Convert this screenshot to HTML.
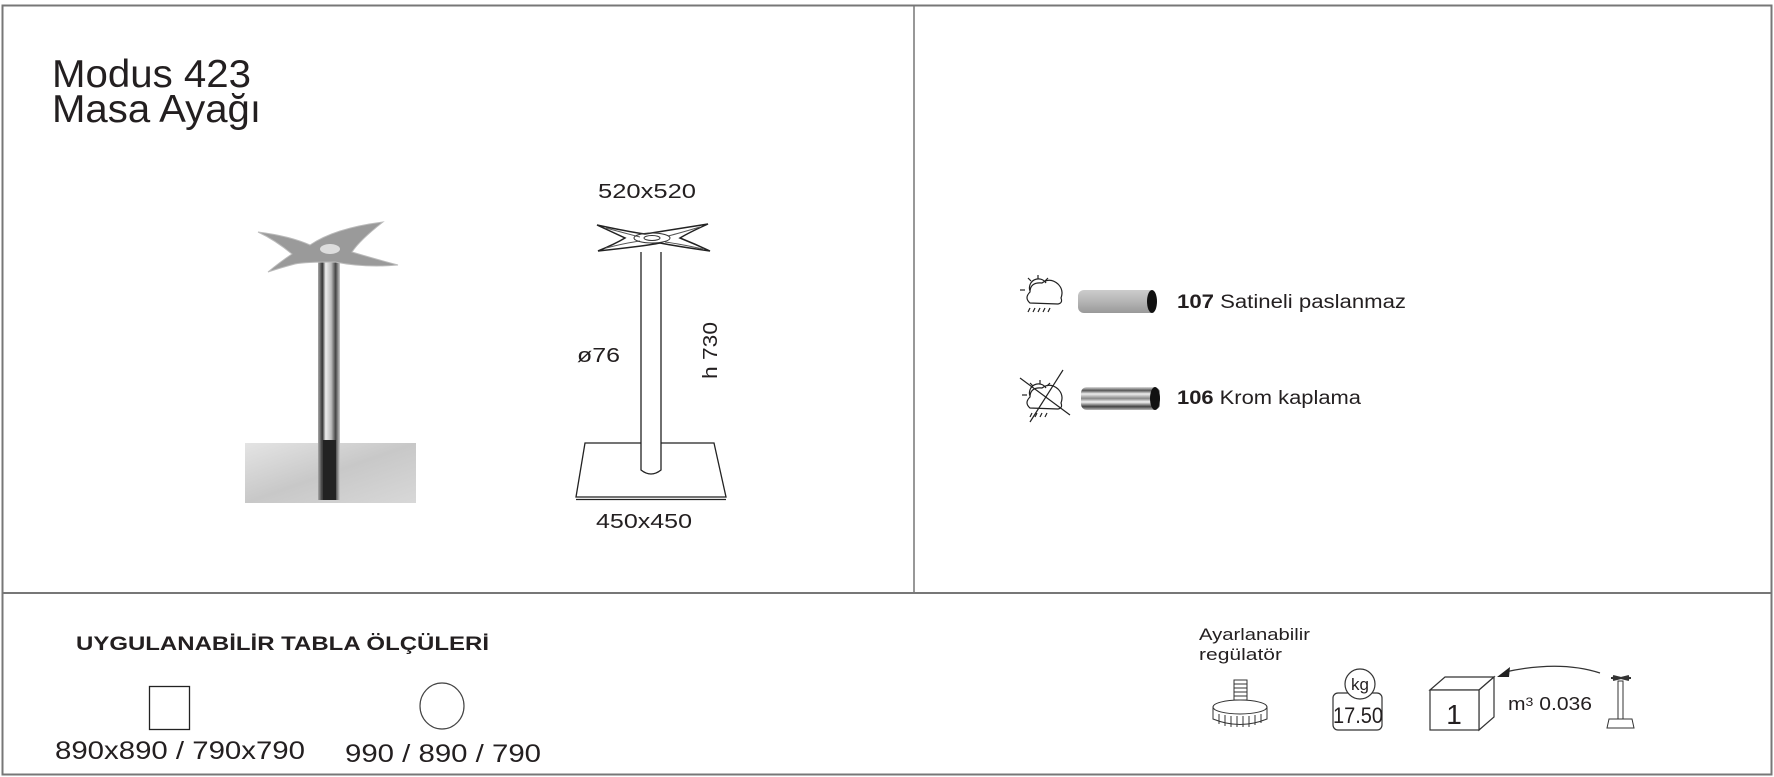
<!DOCTYPE html>
<html><head><meta charset="utf-8"><style>
html,body{margin:0;padding:0;background:#fff;}
svg{display:block;font-family:"Liberation Sans",Arial,sans-serif;}
</style></head><body>
<svg width="1774" height="777" viewBox="0 0 1774 777" xmlns="http://www.w3.org/2000/svg">
<defs>
<linearGradient id="chrome" x1="0" y1="0" x2="0" y2="1">
<stop offset="0" stop-color="#ddd"/><stop offset="0.15" stop-color="#555"/><stop offset="0.3" stop-color="#eee"/><stop offset="0.5" stop-color="#888"/><stop offset="0.65" stop-color="#f5f5f5"/><stop offset="0.85" stop-color="#444"/><stop offset="1" stop-color="#bbb"/>
</linearGradient>
<linearGradient id="sat" x1="0" y1="0" x2="0" y2="1">
<stop offset="0" stop-color="#ccc"/><stop offset="0.5" stop-color="#b5b5b5"/><stop offset="1" stop-color="#999"/>
</linearGradient>
<linearGradient id="col" x1="0" y1="0" x2="1" y2="0">
<stop offset="0" stop-color="#aaa"/><stop offset="0.2" stop-color="#333"/><stop offset="0.35" stop-color="#eee"/><stop offset="0.6" stop-color="#bbb"/><stop offset="0.8" stop-color="#444"/><stop offset="1" stop-color="#ccc"/>
</linearGradient>
<linearGradient id="base" x1="0" y1="0" x2="1" y2="1">
<stop offset="0" stop-color="#e4e4e4"/><stop offset="0.5" stop-color="#c8c8c8"/><stop offset="1" stop-color="#d8d8d8"/>
</linearGradient>
</defs>
<rect x="2.5" y="5.5" width="1769" height="769" fill="none" stroke="#777" stroke-width="2"/>
<line x1="914" y1="5" x2="914" y2="593" stroke="#777" stroke-width="1.5"/>
<line x1="2" y1="593" x2="1772" y2="593" stroke="#777" stroke-width="2"/>

<text x="52" y="87" font-size="39" fill="#231f20" textLength="199" lengthAdjust="spacingAndGlyphs">Modus 423</text>
<text x="52" y="122" font-size="39" fill="#231f20" textLength="209" lengthAdjust="spacingAndGlyphs">Masa Ayağı</text>

<!-- photo -->
<rect x="245" y="443" width="171" height="60" fill="url(#base)"/>
<rect x="318" y="262" width="22" height="238" fill="url(#col)"/>
<rect x="323" y="440" width="13" height="60" fill="#222"/>
<path d="M258,232 Q290,236 310,245 Q335,228 383,222 Q360,240 352,252 Q372,258 398,265 Q365,268 335,262 Q305,262 295,264 Q280,268 268,272 Q280,262 292,254 Q275,240 258,232Z" fill="#9a9a9a" stroke="#bbb"/>
<ellipse cx="330" cy="249" rx="10" ry="5" fill="#ddd"/>

<!-- drawing -->
<path d="M597,225 Q630,232 645,234 Q670,230 708,224 Q690,232 680,238 Q695,244 710,251 Q675,246 660,243 Q645,246 598,251 Q615,244 625,238 Q612,232 597,225Z" fill="#fff" stroke="#222" stroke-width="1.5"/>
<path d="M606,228 Q628,234 640,237 M700,227 Q680,233 668,236 M606,248 Q625,243 640,241 M703,249 Q680,244 665,242" fill="none" stroke="#555"/>
<ellipse cx="652" cy="238" rx="18" ry="5" fill="none" stroke="#333"/>
<ellipse cx="652" cy="238" rx="8" ry="2.5" fill="none" stroke="#333"/>
<path d="M585,443 L714,443 L726,497 L576,497 Z" fill="#fff" stroke="#222" stroke-width="1.3"/>
<line x1="576" y1="499.5" x2="726" y2="499.5" stroke="#222" stroke-width="1.2"/>
<path d="M641,252 L641,470 Q651,478 661,470 L661,252" fill="#fff" stroke="#222" stroke-width="1.3"/>
<text x="598" y="198" font-size="20" fill="#231f20" textLength="98" lengthAdjust="spacingAndGlyphs">520x520</text>
<text x="577" y="362" font-size="20" fill="#231f20" textLength="43" lengthAdjust="spacingAndGlyphs">ø76</text>
<text transform="translate(717,379) rotate(-90)" font-size="20" fill="#231f20" textLength="57" lengthAdjust="spacingAndGlyphs">h 730</text>
<text x="596" y="528" font-size="20" fill="#231f20" textLength="96" lengthAdjust="spacingAndGlyphs">450x450</text>

<!-- finish 1 -->
<g fill="none" stroke="#222" stroke-width="1.2">
<path d="M1030,303 Q1024,298 1030,292 Q1030,282 1042,283 Q1050,277 1058,284 Q1064,290 1061,298 Q1063,303 1058,304 Z"/>
<path d="M1030,291 A9,9 0 0 1 1046,283"/>
<line x1="1038" y1="275" x2="1038" y2="279"/><line x1="1028" y1="278" x2="1031" y2="281"/><line x1="1048" y1="278" x2="1045" y2="281"/><line x1="1020" y1="290" x2="1025" y2="290"/>
<path d="M1030,308 l-2,4 M1035,308 l-2,4 M1040,308 l-2,4 M1045,308 l-2,4 M1050,308 l-2,4"/>
</g>
<rect x="1078" y="290" width="78" height="23" rx="6" fill="url(#sat)"/>
<ellipse cx="1152" cy="301.5" rx="5" ry="11.5" fill="#111"/>
<text x="1177" y="308" font-size="19" fill="#231f20" textLength="229" lengthAdjust="spacingAndGlyphs"><tspan font-weight="bold">107</tspan> Satineli paslanmaz</text>

<!-- finish 2 -->
<g fill="none" stroke="#222" stroke-width="1.2">
<path d="M1030,408 Q1024,403 1030,397 Q1030,387 1042,388 Q1050,382 1058,389 Q1064,395 1061,403 Q1063,408 1058,409 Z"/>
<path d="M1030,396 A9,9 0 0 1 1046,388"/>
<line x1="1040" y1="380" x2="1040" y2="384"/><line x1="1030" y1="383" x2="1033" y2="386"/><line x1="1050" y1="383" x2="1047" y2="386"/><line x1="1022" y1="395" x2="1027" y2="395"/>
<path d="M1032,413 l-2,4 M1037,413 l-2,4 M1042,413 l-2,4 M1047,413 l-2,4"/>
<line x1="1020" y1="378" x2="1070" y2="415"/><line x1="1063" y1="370" x2="1030" y2="422"/>
</g>
<rect x="1081" y="387" width="79" height="23" rx="6" fill="url(#chrome)"/>
<ellipse cx="1155" cy="398.5" rx="5" ry="11.5" fill="#111"/>
<text x="1177" y="404" font-size="19" fill="#231f20" textLength="184" lengthAdjust="spacingAndGlyphs"><tspan font-weight="bold">106</tspan> Krom kaplama</text>

<!-- bottom left -->
<text x="76" y="650" font-size="19" font-weight="bold" fill="#231f20" textLength="413" lengthAdjust="spacingAndGlyphs">UYGULANABİLİR TABLA ÖLÇÜLERİ</text>
<rect x="149.5" y="686.5" width="40" height="43" fill="none" stroke="#222" stroke-width="1.3"/>
<ellipse cx="442" cy="706" rx="22" ry="23" fill="none" stroke="#444" stroke-width="1.2"/>
<text x="55" y="759" font-size="25" fill="#231f20" textLength="250" lengthAdjust="spacingAndGlyphs">890x890 / 790x790</text>
<text x="345" y="762" font-size="25" fill="#231f20" textLength="196" lengthAdjust="spacingAndGlyphs">990 / 890 / 790</text>

<!-- bottom right -->
<text x="1199" y="640" font-size="17" fill="#231f20" textLength="111" lengthAdjust="spacingAndGlyphs">Ayarlanabilir</text>
<text x="1199" y="660" font-size="17" fill="#231f20" textLength="83" lengthAdjust="spacingAndGlyphs">regülatör</text>
<g fill="#fff" stroke="#333" stroke-width="1">
<rect x="1234" y="680" width="13" height="24"/>
<path d="M1234,684 h13 M1234,688 h13 M1234,692 h13 M1234,696 h13 M1234,700 h13"/>
<path d="M1213,707 L1213,719 Q1240,730 1267,719 L1267,707"/>
<ellipse cx="1240" cy="707" rx="27" ry="7"/>
<path d="M1219,714 v10 M1225,715 v11 M1231,716 v11 M1237,716 v11 M1243,716 v11 M1249,716 v11 M1255,715 v10 M1261,714 v9"/>
</g>
<rect x="1333" y="693" width="49" height="37" rx="5" fill="#fff" stroke="#333" stroke-width="1.2"/>
<circle cx="1360" cy="684" r="15" fill="#fff" stroke="#333" stroke-width="1.2"/>
<text x="1360" y="690" font-size="17" text-anchor="middle" fill="#231f20">kg</text>
<text x="1333" y="723" font-size="22" fill="#231f20" textLength="50" lengthAdjust="spacingAndGlyphs">17.50</text>
<g fill="#fff" stroke="#333" stroke-width="1.2">
<polygon points="1430,690 1445,677 1494,677 1479,690"/>
<polygon points="1479,690 1494,677 1494,717 1479,730"/>
<rect x="1430" y="690" width="49" height="40"/>
</g>
<text x="1454" y="724" font-size="28" text-anchor="middle" fill="#231f20">1</text>
<path d="M1600,673 Q1560,660 1505,672" fill="none" stroke="#333" stroke-width="1.2"/>
<polygon points="1497,677 1510,667 1509,677" fill="#222"/>
<text x="1508" y="710" font-size="18" fill="#231f20" textLength="84" lengthAdjust="spacingAndGlyphs">m<tspan font-size="12" dy="-4">3</tspan><tspan dy="4"> 0.036</tspan></text>
<g stroke="#333" fill="none">
<path d="M1611,678 h20 M1613,676 l16,4 M1629,676 l-16,4" stroke-width="2"/>
<rect x="1618" y="681" width="5" height="38" fill="#fff"/>
<polygon points="1609,719 1632,719 1634,728 1607,728" fill="#fff"/>
</g>
</svg>
</body></html>
